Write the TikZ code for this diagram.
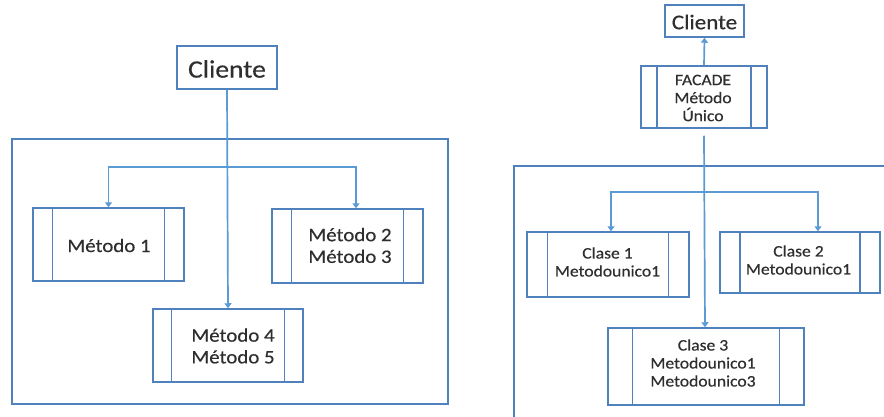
\documentclass[tikz,border=0pt]{standalone}
\usepackage{fontspec}
\setmainfont{Carlito}[FakeStretch=1.1,FakeBold=0.4]
\usetikzlibrary{arrows.meta}
\definecolor{boxblue}{HTML}{4F81BD}
\definecolor{lineblue}{HTML}{5B9BD5}
\definecolor{txtgray}{HTML}{2E2E2E}
\tikzset{
  box/.style={draw=boxblue, line width=1.5pt, rectangle, inner sep=0pt},
  procbox/.style 2 args={box, minimum width=#1, minimum height=#2},
  bars/.style={path picture={
      \draw[boxblue, line width=1.5pt]
        ([xshift=#1]path picture bounding box.north west) -- ([xshift=#1]path picture bounding box.south west)
        ([xshift=-#1]path picture bounding box.north east) -- ([xshift=-#1]path picture bounding box.south east);}},
  txt/.style={text=txtgray, align=center, inner sep=0pt},
  bigtxt/.style={txt, font=\fontsize{19}{21.7}\selectfont},
  smalltxt/.style={txt, font=\fontsize{16}{18}\selectfont},
  conn/.style={draw=lineblue, line width=1.7pt},
  arr/.style={conn, -{Triangle[width=7pt,length=5pt]}},
}
\begin{document}
\begin{tikzpicture}[x=1pt,y=-1pt]
\useasboundingbox[fill=white] (0,0) rectangle (884,417);

% ---------------- left diagram ----------------
\node[box, minimum width=100, minimum height=43] (cliL) at (227,67.5) {};
\node[txt, font=\fontsize{25}{28}\selectfont] (cliLt) at (227,69) {Cliente};
\node[box, minimum width=436, minimum height=265] (contL) at (230,271.5) {};

\node[procbox={151}{73}, bars=19.5pt] (m1) at (108.5,244.5) {};
\node[bigtxt] (m1t) at (109,245.5) {Método 1};

\node[procbox={151}{74}, bars=19.5pt] (m23) at (347.5,246) {};
\node[bigtxt] (m23t) at (350,245.5) {Método 2\\Método 3};

\node[procbox={150}{73}, bars=18.5pt] (m45) at (228,345.5) {};
\node[bigtxt] (m45t) at (233,346) {Método 4\\Método 5};

\draw[arr] (cliL.south) -- (m45.north);
\coordinate (jL) at (227,167);
\draw[arr] (jL) -| (m1.north);
\draw[arr] (jL) -| ([xshift=8.5pt]m23.north);

% ---------------- right diagram ----------------
\node[box, minimum width=79, minimum height=32] (cliR) at (704.5,21) {};
\node[txt, font=\fontsize{21}{24}\selectfont] (cliRt) at (704.5,22) {Cliente};

\node[procbox={126}{62}, bars=16pt] (fac) at (704,97) {};
\node[smalltxt] (fact) at (703,98) {FACADE\\Método\\Único};

\coordinate (contTL) at (514,166);
\coordinate (contTR) at (884,166);
\coordinate (contBL) at (514,417);
\draw[boxblue, line width=1.5pt] (contTR) -- (contTL) -- (contBL);

\node[procbox={162}{65}, bars=20.5pt] (c1) at (608,264.5) {};
\node[smalltxt] (c1t) at (607.5,262) {Clase 1\\Metodounico1};

\node[procbox={160}{61}, bars=20pt] (c2) at (800,262.5) {};
\node[smalltxt] (c2t) at (798.5,260) {Clase 2\\Metodounico1};

\node[procbox={196}{77}, bars=24.5pt] (c3) at (706,366.5) {};
\node[smalltxt] (c3t) at (703,363) {Clase 3\\Metodounico1\\Metodounico3};

\draw[arr] (fac.north) -- (cliR.south);
\draw[arr] ([yshift=-7pt]fac.south) -- ([xshift=-1pt]c3.north);
\coordinate (jR) at (705,192);
\draw[arr] (jR) -| ([xshift=3pt]c1.north);
\draw[arr] (jR) -| ([xshift=18pt]c2.north);
\end{tikzpicture}
\end{document}
